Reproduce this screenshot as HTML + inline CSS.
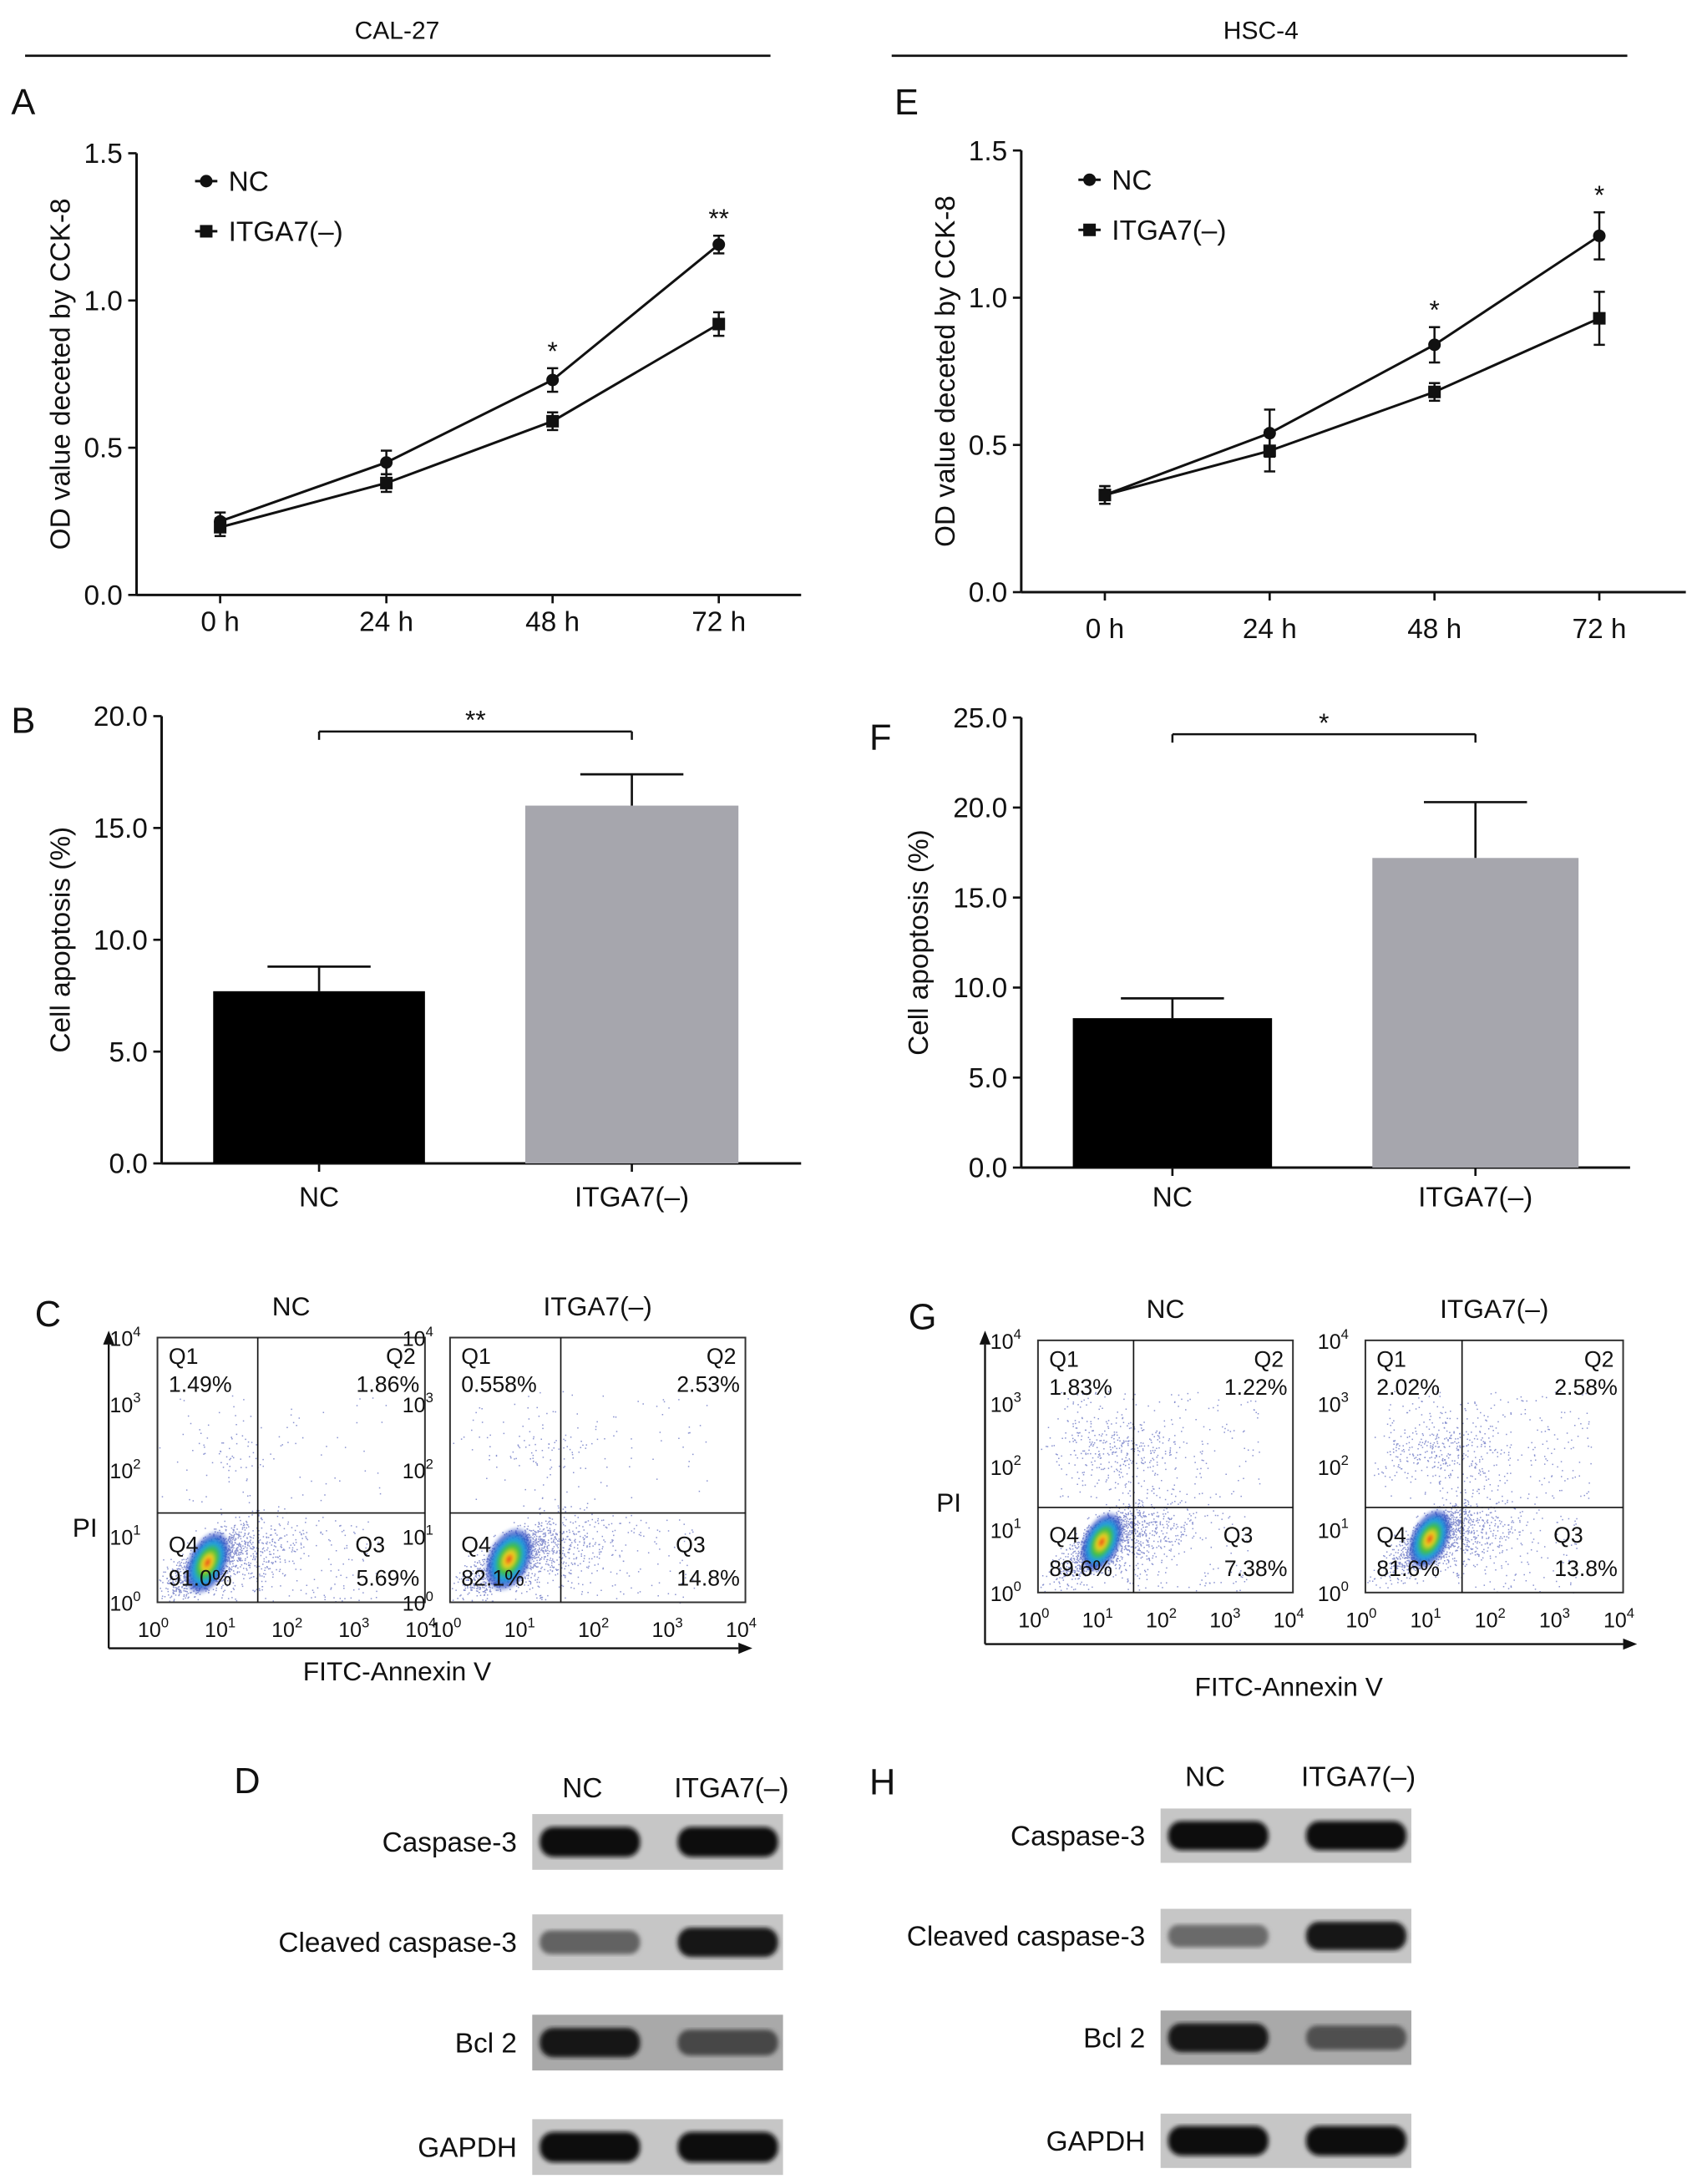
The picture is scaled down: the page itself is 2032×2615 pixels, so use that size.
<!DOCTYPE html>
<html><head><meta charset="utf-8"><style>
html,body{margin:0;padding:0;background:#fff;}
svg{display:block;}
text{font-family:"Liberation Sans",Arial,sans-serif;fill:#111;}
</style></head><body>
<svg id="fig" width="2032" height="2615" viewBox="0 0 1218 1567.5" xmlns="http://www.w3.org/2000/svg">
<defs>
<filter id="blur05"><feGaussianBlur stdDeviation="0.9"/></filter>
<filter id="blur2"><feGaussianBlur stdDeviation="1.6"/></filter>
<radialGradient id="hot" cx="50%" cy="50%" r="50%">
<stop offset="0" stop-color="#e63a1a"/><stop offset="0.2" stop-color="#f0d020"/><stop offset="0.4" stop-color="#40c040"/><stop offset="0.6" stop-color="#20a0e0"/><stop offset="0.82" stop-color="#2040c0" stop-opacity="0.7"/><stop offset="1" stop-color="#2040c0" stop-opacity="0"/>
</radialGradient>
</defs>
<g id="root"></g>
</svg>
<script>
// ---- data ----
const timeLabels = ["0 h","24 h","48 h","72 h"];
const calNC = [0.25,0.45,0.73,1.19];
const calNCErr = [0.03,0.04,0.04,0.03];
const calKD = [0.23,0.38,0.59,0.92];
const calKDErr = [0.03,0.03,0.03,0.04];
const calStars = ["","","*","**"];
const hscNC = [0.33,0.54,0.84,1.21];
const hscNCErr = [0.03,0.08,0.06,0.08];
const hscKD = [0.33,0.48,0.68,0.93];
const hscKDErr = [0.03,0.07,0.03,0.09];
const hscStars = ["","","*","*"];
const odTicks = [0.0,0.5,1.0,1.5];
const groups = ["NC","ITGA7(–)"];
const calApop = [7.7,16.0];
const calApopErr = [1.1,1.4];
const calApopTicks = [0,5,10,15,20];
const hscApop = [8.3,17.2];
const hscApopErr = [1.1,3.1];
const hscApopTicks = [0,5,10,15,20,25];
const flowQuadCal = [["1.49%","1.86%","5.69%","91.0%"],["0.558%","2.53%","14.8%","82.1%"]];
const flowQuadHsc = [["1.83%","1.22%","7.38%","89.6%"],["2.02%","2.58%","13.8%","81.6%"]];
const blotRows = ["Caspase-3","Cleaved caspase-3","Bcl 2","GAPDH"];
const calBlotInt = [[0.95,0.95],[0.5,0.9],[0.9,0.65],[0.98,0.98]];
const hscBlotInt = [[0.95,0.95],[0.45,0.9],[0.92,0.6],[0.98,0.98]];

const NS="http://www.w3.org/2000/svg";
const root=document.getElementById('root');
function el(tag,attrs,parent,txt){const e=document.createElementNS(NS,tag);for(const k in attrs)e.setAttribute(k,attrs[k]);if(txt!==undefined)e.textContent=txt;(parent||root).appendChild(e);return e;}
function T(x,y,s,size,anchor,parent,name){const t=el('text',{x:x,y:y,'font-size':size,'text-anchor':anchor||'start'},parent,s);

return t;}
function L(x1,y1,x2,y2,w,parent){return el('line',{x1:x1,y1:y1,x2:x2,y2:y2,stroke:'#111','stroke-width':w||1.6},parent);}

T(285,28,"CAL-27",18,'middle',null,'cal27-title');L(18,40,553,40,1.6);
T(905,28,"HSC-4",18,'middle',null,'hsc4-title');L(640,40,1168,40,1.6);

function lineChart(name,letter,lx,ly,ax,yTop,yBot,xEnd,xs,nc,ncE,kd,kdE,stars,labY,ylabX,legX,legY){
  const g=el('g',{},root);
  T(lx,ly,letter,26,'start',g,'panel-label');
  const ymax=1.5, y=v=>yBot-(v/ymax)*(yBot-yTop);
  const xp=i=>xs[0]+i*(xs[1]-xs[0]);
  L(ax,yTop,ax,yBot,1.8,g);L(ax,yBot,xEnd,yBot,1.8,g);
  odTicks.forEach(v=>{L(ax-6,y(v),ax,y(v),1.6,g);T(ax-10,y(v)+7,v.toFixed(1),20,'end',g,'y-tick-label');});
  timeLabels.forEach((s,i)=>{L(xp(i),yBot,xp(i),yBot+6,1.6,g);T(xp(i),labY,s,20,'middle',g,'x-tick-label');});
  const yl=T(0,0,"OD value deceted by CCK-8",20,'middle',g,'y-axis-title');yl.setAttribute('transform',`translate(${ylabX},${(yTop+yBot)/2}) rotate(-90)`);
  [[nc,ncE,'circle'],[kd,kdE,'square']].forEach(([vals,errs,shape])=>{
    const pts=vals.map((v,i)=>xp(i)+','+y(v)).join(' ');
    const pl=el('polyline',{points:pts,fill:'none',stroke:'#111','stroke-width':1.8},g);
    
    
    vals.forEach((v,i)=>{const X=xp(i),Y=y(v),e=errs[i];
      L(X,y(v+e),X,y(v-e),1.5,g);L(X-4,y(v+e),X+4,y(v+e),1.5,g);L(X-4,y(v-e),X+4,y(v-e),1.5,g);
      let m;if(shape==='circle')m=el('circle',{cx:X,cy:Y,r:4.5,fill:'#111'},g);else m=el('rect',{x:X-4.5,y:Y-4.5,width:9,height:9,fill:'#111'},g);
      
      
    });
  });
  stars.forEach((s,i)=>{if(s){T(xp(i),y(Math.max(nc[i]+ncE[i],kd[i]))-6,s,19,'middle',g,'significance-star');}});
  L(legX-8,legY,legX+8,legY,1.8,g);el('circle',{cx:legX,cy:legY,r:4.5,fill:'#111'},g);T(legX+16,legY+7,"NC",20,'start',g,'legend-nc');
  L(legX-8,legY+36,legX+8,legY+36,1.8,g);el('rect',{x:legX-4.5,y:legY+31.5,width:9,height:9,fill:'#111'},g);T(legX+16,legY+43,"ITGA7(–)",20,'start',g,'legend-itga7');
}
lineChart('cal27-cck8-chart','A',8,82,98,110,427,575,[158,277.3],calNC,calNCErr,calKD,calKDErr,calStars,453,50,148,130);
lineChart('hsc4-cck8-chart','E',642,82,733,108,425,1210,[793,911.3],hscNC,hscNCErr,hscKD,hscKDErr,hscStars,458,685,782,129);

function barChart(name,letter,lx,ly,ax,yTop,yBot,xEnd,ticks,bars,vals,errs,brY,star,labY,ylabX){
  const g=el('g',{},root);
  T(lx,ly,letter,26,'start',g,'panel-label');
  const ymax=ticks[ticks.length-1], y=v=>yBot-(v/ymax)*(yBot-yTop);
  L(ax,yTop,ax,yBot,1.8,g);L(ax,yBot,xEnd,yBot,1.8,g);
  ticks.forEach(v=>{L(ax-6,y(v),ax,y(v),1.6,g);T(ax-10,y(v)+7,v.toFixed(1),20,'end',g,'y-tick-label');});
  const cols=['#000','#a6a6ad'];
  vals.forEach((v,i)=>{const [x0,x1]=bars[i],cx=(x0+x1)/2;
    const r=el('rect',{x:x0,y:y(v),width:x1-x0,height:yBot-y(v),fill:cols[i]},g);
    
    
    L(cx,y(v),cx,y(v+errs[i]),1.6,g);L(cx-37,y(v+errs[i]),cx+37,y(v+errs[i]),1.6,g);
    L(cx,yBot,cx,yBot+6,1.6,g);T(cx,labY,groups[i],20,'middle',g,'x-tick-label');
  });
  const c0=(bars[0][0]+bars[0][1])/2,c1=(bars[1][0]+bars[1][1])/2;
  L(c0,brY,c1,brY,1.5,g);L(c0,brY,c0,brY+6,1.5,g);L(c1,brY,c1,brY+6,1.5,g);
  T((c0+c1)/2,brY-2,star,19,'middle',g,'significance-star');
  const yl=T(0,0,"Cell apoptosis (%)",20,'middle',g,'y-axis-title');yl.setAttribute('transform',`translate(${ylabX},${(yTop+yBot)/2}) rotate(-90)`);
}
barChart('cal27-apoptosis-chart','B',8,526,116,514,835,575,calApopTicks,[[153,305],[377,530]],calApop,calApopErr,525,"**",866,50);
barChart('hsc4-apoptosis-chart','F',624,538,733,515,838,1170,hscApopTicks,[[770,913],[985,1133]],hscApop,hscApopErr,527,"*",866,666);

let seed=12345;function rnd(){seed=(seed*1103515245+12345)%2147483648;return seed/2147483648;}
function gauss(){let u=rnd()||1e-6,v=rnd();return Math.sqrt(-2*Math.log(u))*Math.cos(2*Math.PI*v);}
function flowPlot(g,x0,y0,w,h,title,q,cx,cy,spread,upper,qx,qy){
  const box=el('g',{},g);
  T(x0+w/2,y0-16,title,19,'middle',box,'flow-plot-title');
  const X=l=>x0+l/4*w, Y=l=>y0+h-l/4*h;
  let d='';
  for(let i=0;i<1500;i++){let s=gauss()*spread;let lx=cx+s+gauss()*spread*0.6,ly=cy+s*0.9+gauss()*spread*0.5;if(rnd()<0.25){lx+=rnd()*1.0;}
    if(lx<0.02||ly<0.02||lx>3.98||ly>3.98)continue;d+=`M${X(lx).toFixed(1)} ${Y(ly).toFixed(1)}h0.9v0.9h-0.9z`;}
  for(let i=0;i<upper;i++){let lx=0.3+rnd()*3.2,ly=1.5+rnd()*1.7;if(rnd()<0.5){lx=1.2+gauss()*0.5;ly=2.3+gauss()*0.25;}
    if(lx<0.02||ly<0.02||lx>3.98||ly>3.98)continue;d+=`M${X(lx).toFixed(1)} ${Y(ly).toFixed(1)}h0.9v0.9h-0.9z`;}
  for(let i=0;i<120;i++){let lx=1.5+rnd()*1.8,ly=rnd()*1.3;d+=`M${X(lx).toFixed(1)} ${Y(ly).toFixed(1)}h0.9v0.9h-0.9z`;}
  el('path',{d:d,fill:'#3a4ab0',opacity:0.6},box);
  const bl=el('ellipse',{cx:X(cx),cy:Y(cy),rx:w*0.075,ry:h*0.13,fill:'url(#hot)',filter:'url(#blur05)'},box);
  bl.setAttribute('transform',`rotate(25 ${X(cx)} ${Y(cy)})`);
  el('rect',{x:x0,y:y0,width:w,height:h,fill:'none',stroke:'#333','stroke-width':1.2},box);
  L(X(qx),y0,X(qx),y0+h,1,box);L(x0,Y(qy),x0+w,Y(qy),1,box);
  T(x0+8,y0+19,"Q1",16,'start',box);T(x0+8,y0+39,q[0],16,'start',box);
  T(x0+w-28,y0+19,"Q2",16,'start',box);T(x0+w-4,y0+39,q[1],16,'end',box);
  T(x0+w-50,y0+h-36,"Q3",16,'start',box);T(x0+w-4,y0+h-12,q[2],16,'end',box);
  T(x0+8,y0+h-36,"Q4",16,'start',box);T(x0+8,y0+h-12,q[3],16,'start',box);
  for(let k=0;k<=4;k++){
    const t=T(x0-12,Y(k)+6,"10",15,'end',box,'y-tick-label');el('tspan',{dy:-7,'font-size':10},t,String(k));
    const t2=T(X(k)-3,y0+h+25,"10",15,'middle',box,'x-tick-label');el('tspan',{dy:-7,'font-size':10},t2,String(k));
  }
}
function flowPanel(name,letter,lx,ly,axX,axY,axXEnd,axYTop,plots,qs,xlabX,xlabY,piX,piY,params){
  const g=el('g',{},root);
  T(lx,ly,letter,26,'start',g,'panel-label');
  L(axX,axY,axXEnd,axY,1.4,g);L(axX,axY,axX,axYTop,1.4,g);
  el('path',{d:`M${axXEnd+10} ${axY} l-10 -4 v8z M${axX} ${axYTop-10} l-4 10 h8z`,fill:'#111'},g);
  T(xlabX,xlabY,"FITC-Annexin V",19,'middle',g,'x-axis-title');
  T(piX,piY,"PI",19,'start',g,'y-axis-title');
  plots.forEach((p,i)=>flowPlot(g,p[0],p[1],p[2],p[3],groups[i],qs[i],params[i][0],params[i][1],params[i][2],params[i][3],params[i][4],params[i][5]));
}
flowPanel('cal27-flow-panel','C',25,952,78,1183,530,965,[[113,960,192,190],[323,960,212,190]],flowQuadCal,285,1206,52,1103,
  [[0.75,0.6,0.28,120,1.5,1.35],[0.8,0.65,0.28,160,1.5,1.35]]);
flowPanel('hsc4-flow-panel','G',652,954,707,1180,1165,965,[[745,962,183,181],[980,962,185,181]],flowQuadHsc,925,1217,672,1085,
  [[1.0,0.8,0.3,500,1.5,1.35],[1.0,0.85,0.28,550,1.5,1.35]]);

function blotPanel(name,letter,lx,ly,bx,bw,rowsY,rowH,labX,hdr,ints){
  const g=el('g',{},root);
  T(lx,ly,letter,26,'start',g,'panel-label');
  T(hdr[0],hdr[2],groups[0],20,'middle',g,'lane-label-nc');T(hdr[1],hdr[2],groups[1],20,'middle',g,'lane-label-itga7');
  blotRows.forEach((r,i)=>{const y0=rowsY[i];
    const bg=el('rect',{x:bx,y:y0,width:bw,height:rowH,fill:i===2?'#a9a9a9':'#c6c6c6'},g);
    
    T(labX,y0+rowH/2+7,r,20,'end',g,'protein-label');
    ints[i].forEach((v,j)=>{const lx0=bx+(j?bw*0.58:bw*0.03),lw=bw*0.4,bh=rowH*(0.3+0.25*v);
      const c=Math.round(190-185*v);
      const b=el('rect',{x:lx0,y:y0+rowH/2-bh/2,width:lw,height:bh,rx:bh/2.2,fill:`rgb(${c},${c},${c})`,filter:'url(#blur2)'},g);
      });
  });
}
blotPanel('cal27-western-blot','D',168,1287,382,180,[1302,1374,1446,1521],40,371,[418,525,1290],calBlotInt);
blotPanel('hsc4-western-blot','H',624,1288,833,180,[1298,1370,1443,1517],39,822,[865,975,1282],hscBlotInt);
</script>
</body></html>
